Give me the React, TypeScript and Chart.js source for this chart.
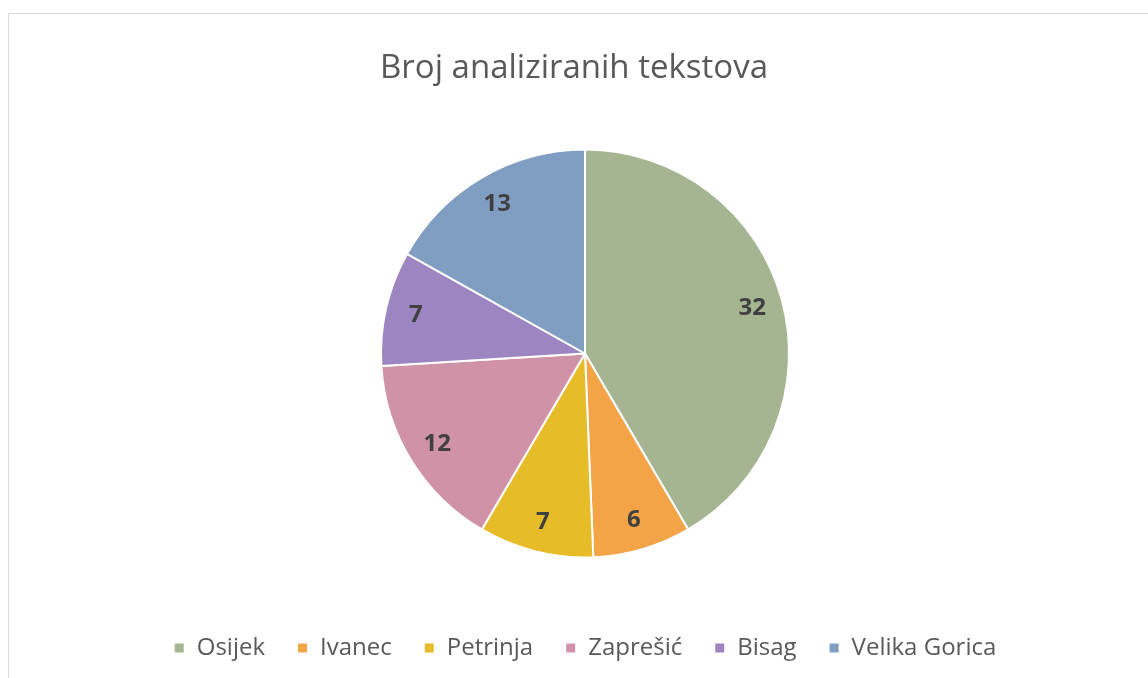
import React, { useEffect, useRef } from "react";
import { Chart, registerables } from "chart.js";

Chart.register(...registerables);

const chartTitle = "Broj analiziranih tekstova";
const categories = ["Osijek", "Ivanec", "Petrinja", "Zaprešić", "Bisag", "Velika Gorica"];
const counts = [32, 6, 7, 12, 7, 13];
const sliceColors = ["#A5B592", "#F3A447", "#E7BC29", "#D092A7", "#9C85C0", "#809EC2"];

const FONT = "'Open Sans', 'Noto Sans', sans-serif";

const titlePlugin = {
  id: "centeredTitle",
  afterDraw(chart: any) {
    const ctx = chart.ctx;
    ctx.save();
    ctx.font = `33px ${FONT}`;
    ctx.fillStyle = "#595959";
    ctx.textAlign = "center";
    ctx.textBaseline = "alphabetic";
    ctx.fillText(chartTitle, chart.width / 2, 78);
    ctx.restore();
  },
};

const sliceLabelPlugin = {
  id: "sliceLabels",
  afterDatasetsDraw(chart: any) {
    const ctx = chart.ctx;
    const meta = chart.getDatasetMeta(0);
    const values = chart.data.datasets[0].data as number[];
    ctx.save();
    ctx.font = `bold 24px ${FONT}`;
    ctx.fillStyle = "#404040";
    ctx.textAlign = "center";
    ctx.textBaseline = "middle";
    meta.data.forEach((arc: any, i: number) => {
      const p = arc.getProps(["x", "y", "startAngle", "endAngle", "outerRadius"], true);
      const mid = (p.startAngle + p.endAngle) / 2;
      const d = p.outerRadius * 0.85;
      ctx.fillText(String(values[i]), p.x + Math.cos(mid) * d, p.y + Math.sin(mid) * d);
    });
    ctx.restore();
  },
};

export default function App() {
  const canvasRef = useRef<HTMLCanvasElement | null>(null);

  useEffect(() => {
    if (!canvasRef.current) return;
    const chart = new Chart(canvasRef.current, {
      type: "pie",
      data: {
        labels: categories,
        datasets: [
          {
            data: counts,
            backgroundColor: sliceColors,
            borderColor: "#FFFFFF",
            borderWidth: 2,
            radius: 204,
          },
        ],
      },
      options: {
        responsive: false,
        animation: false,
        devicePixelRatio: 1,
        layout: { padding: { left: 22, right: 0, top: 103, bottom: 8 } },
        plugins: {
          title: { display: false },
          tooltip: { enabled: false },
          legend: {
            display: true,
            position: "bottom",
            labels: {
              color: "#595959",
              font: { family: FONT, size: 24 },
              boxWidth: 11,
              boxHeight: 11,
              padding: 32,
            },
          },
        },
      },
      plugins: [titlePlugin, sliceLabelPlugin],
    });
    return () => chart.destroy();
  }, []);

  return (
    <div style={{ position: "fixed", left: 0, top: 0, width: 1148, height: 678, overflow: "hidden", background: "#fff" }}>
      <div
        style={{
          position: "absolute",
          left: 8,
          top: 13,
          width: 1160,
          height: 700,
          border: "1px solid #D9D9D9",
          boxSizing: "border-box",
        }}
      />
      <canvas ref={canvasRef} width={1148} height={678} style={{ position: "absolute", left: 0, top: 0 }} />
    </div>
  );
}
